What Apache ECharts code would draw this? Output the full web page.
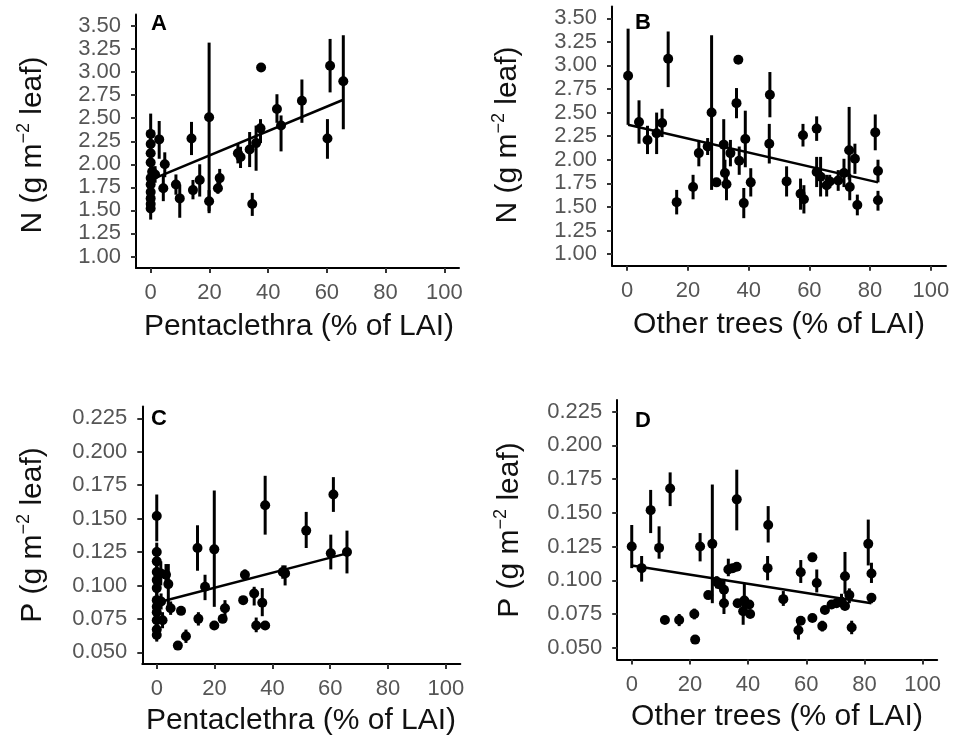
<!DOCTYPE html>
<html>
<head>
<meta charset="utf-8">
<script src="https://cdn.jsdelivr.net/npm/echarts@6/dist/echarts.min.js"></script>
<style>html,body{margin:0;padding:0;background:#fff}#c{width:954px;height:743px}</style>
</head>
<body>
<div id="c"></div>
<script>
// ---- data: [x (% of LAI), mean, lower, upper] ----
const pentN = [
  [0,2.33,2.20,2.55],[0,2.22,2.10,2.35],[0,2.12,2.02,2.22],[0,2.02,1.92,2.12],[0.5,1.92,1.82,2.02],
  [0,1.85,1.75,1.95],[0,1.78,1.68,1.88],[0,1.70,1.60,1.80],[0,1.63,1.53,1.73],[0,1.57,1.47,1.67],
  [0,1.52,1.40,1.62],[1.5,1.89,1.80,1.98],[2.9,2.27,2.06,2.47],[4.3,1.74,1.60,1.88],[4.8,2.00,1.86,2.13],
  [8.6,1.78,1.67,1.89],[9.9,1.63,1.42,1.78],[13.9,2.28,2.10,2.46],[14.4,1.72,1.62,1.83],[16.7,1.83,1.65,2.00],
  [19.9,2.51,1.47,3.32],[19.9,1.60,1.49,1.72],[22.9,1.74,1.68,1.81],[23.5,1.85,1.74,1.95],[29.7,2.12,2.01,2.23],
  [30.6,2.08,1.96,2.19],[33.7,2.16,1.97,2.35],[34.6,1.57,1.44,1.69],[35.9,2.23,1.93,2.42],[37.4,2.39,2.23,2.49],
  [37.6,3.05,3.05,3.05],[43.0,2.60,2.45,2.76],[44.4,2.42,2.14,2.53],[51.5,2.69,2.45,2.92],[60.2,2.28,2.06,2.49],
  [61.1,3.07,2.78,3.36],[65.6,2.90,2.38,3.40]
];
const otherN = [
  [0.3,2.89,2.37,3.39],[3.9,2.40,2.17,2.63],[6.7,2.21,2.06,2.36],[9.7,2.28,2.06,2.50],[11.5,2.39,2.24,2.54],
  [13.5,3.07,2.77,3.36],[16.3,1.55,1.42,1.68],[21.7,1.71,1.58,1.84],[23.6,2.07,1.93,2.21],[26.5,2.14,2.05,2.23],
  [27.8,2.50,1.68,3.32],[29.4,1.76,1.72,1.80],[31.8,2.16,1.90,2.43],[32.2,1.86,1.72,2.00],[32.7,1.74,1.57,1.90],
  [34.0,2.07,1.93,2.21],[36.0,2.60,2.44,2.76],[36.6,3.06,3.06,3.06],[36.9,1.99,1.84,2.14],[38.9,2.22,1.92,2.52],
  [38.4,1.54,1.38,1.70],[40.7,1.76,1.61,1.91],[47.0,2.69,2.45,2.93],[46.8,2.17,1.96,2.38],[52.5,1.77,1.61,1.93],
  [57.1,1.64,1.47,1.80],[57.9,2.26,2.14,2.38],[58.2,1.58,1.43,1.73],[62.4,2.33,2.20,2.46],[62.4,1.87,1.71,2.03],
  [63.7,1.82,1.61,2.03],[65.7,1.73,1.61,1.84],[66.7,1.77,1.70,1.84],[69.5,1.78,1.67,1.89],[71.4,1.86,1.71,2.01],
  [73.1,2.10,1.79,2.56],[73.3,1.71,1.57,1.85],[75.0,2.01,1.85,2.17],[75.8,1.52,1.41,1.63],[81.7,2.29,2.10,2.48],
  [82.6,1.88,1.76,2.00],[82.6,1.57,1.46,1.67]
];
const pentP = [
  [0,0.152,0.133,0.168],[0,0.125,0.118,0.132],[0,0.118,0.112,0.124],[0,0.110,0.104,0.116],[0,0.104,0.098,0.110],
  [0,0.098,0.092,0.104],[0,0.089,0.083,0.095],[0,0.084,0.078,0.090],[0,0.080,0.074,0.086],[0,0.074,0.068,0.080],
  [0,0.067,0.062,0.072],[0,0.063,0.058,0.068],[1.4,0.109,0.100,0.118],[2.0,0.074,0.068,0.080],[1.5,0.088,0.082,0.094],
  [3.2,0.108,0.100,0.116],[4.0,0.101,0.083,0.116],[4.8,0.083,0.078,0.088],[7.3,0.055,0.055,0.055],[8.4,0.081,0.078,0.084],
  [10.1,0.062,0.057,0.067],[14.1,0.128,0.111,0.145],[14.4,0.075,0.070,0.080],[16.7,0.099,0.089,0.108],[19.9,0.127,0.084,0.171],
  [19.9,0.070,0.070,0.070],[22.8,0.075,0.075,0.075],[23.6,0.083,0.075,0.089],[29.9,0.089,0.089,0.089],[30.5,0.108,0.104,0.112],
  [33.7,0.094,0.085,0.099],[34.4,0.070,0.065,0.076],[36.5,0.087,0.077,0.098],[37.5,0.160,0.138,0.182],[37.5,0.070,0.070,0.070],
  [43.6,0.110,0.105,0.115],[44.4,0.109,0.100,0.115],[51.7,0.141,0.128,0.155],[60.2,0.124,0.112,0.138],[61.1,0.168,0.155,0.181],
  [65.8,0.125,0.109,0.141]
];
const otherP = [
  [0,0.125,0.109,0.141],[3.4,0.109,0.099,0.118],[6.5,0.152,0.135,0.167],[9.4,0.124,0.116,0.140],[13.2,0.168,0.155,0.180],
  [11.4,0.0705,0.0705,0.0705],[16.3,0.0705,0.066,0.075],[21.5,0.075,0.071,0.079],[21.8,0.056,0.056,0.056],[23.5,0.125,0.114,0.135],
  [27.7,0.127,0.083,0.171],[26.3,0.089,0.087,0.091],[29.2,0.099,0.094,0.103],[30.0,0.097,0.097,0.097],[31.7,0.093,0.085,0.101],
  [31.7,0.083,0.075,0.090],[33.2,0.108,0.103,0.116],[34.7,0.109,0.109,0.109],[36.1,0.110,0.110,0.110],[36.1,0.160,0.137,0.182],
  [36.4,0.083,0.083,0.083],[38.3,0.077,0.067,0.085],[38.7,0.085,0.078,0.098],[40.4,0.082,0.082,0.082],[40.7,0.075,0.075,0.075],
  [46.9,0.141,0.128,0.155],[46.7,0.109,0.100,0.118],[52.1,0.086,0.081,0.092],[58.1,0.106,0.098,0.115],[57.3,0.063,0.056,0.068],
  [62.1,0.117,0.117,0.117],[63.6,0.098,0.091,0.108],[58.1,0.070,0.070,0.070],[62.1,0.072,0.072,0.072],[65.5,0.066,0.062,0.070],
  [66.4,0.078,0.078,0.078],[68.7,0.082,0.082,0.082],[70.4,0.083,0.083,0.083],[72.1,0.084,0.080,0.090],[73.3,0.103,0.090,0.121],
  [73.3,0.081,0.081,0.081],[74.8,0.089,0.083,0.094],[75.6,0.065,0.060,0.070],[81.3,0.127,0.111,0.145],[82.4,0.105,0.098,0.113],
  [82.4,0.087,0.083,0.090]
];
// fitted regression lines (endpoints over data range)
const fitPentN = [[0,1.83],[65.6,2.70]];
const fitOtherN = [[0.3,2.37],[82.6,1.76]];
const fitPentP = [[0,0.087],[65.8,0.124]];
const fitOtherP = [[0,0.111],[82.4,0.083]];
// tick labels
const xTicks = [0,20,40,60,80,100];
const nTicks = [1.00,1.25,1.50,1.75,2.00,2.25,2.50,2.75,3.00,3.25,3.50];
const pTicks = [0.050,0.075,0.100,0.125,0.150,0.175,0.200,0.225];
const panelLetters = ['A','B','C','D'];
const xTitles = ['Pentaclethra (% of LAI)','Other trees (% of LAI)','Pentaclethra (% of LAI)','Other trees (% of LAI)'];
const yNames = ['N','N','P','P'];

const FONT = '"Liberation Sans", Arial, Helvetica, sans-serif';
const grids = [
  {left:136, top:14.5, width:323, height:253.5},
  {left:612, top:6.5, width:334, height:259.3},
  {left:142.3, top:406.6, width:318, height:257.4},
  {left:617.2, top:399.9, width:320, height:259.6}
];
const yRanges = [[0.875,3.625],[0.875,3.625],[0.04125,0.23375],[0.04125,0.23375]];
const yTickSets = [nTicks,nTicks,pTicks,pTicks];
const yDec = [2,2,3,3];
const datasets = [pentN, otherN, pentP, otherP];
const fits = [fitPentN, fitOtherN, fitPentP, fitOtherP];

const xAxes = grids.map((g,i)=>({
  type:'value', gridIndex:i, min:-5, max:105,
  splitLine:{show:false},
  axisLine:{show:true, onZero:false, lineStyle:{color:'#000', width:2}},
  axisTick:{show:true, customValues:xTicks, length:5, lineStyle:{color:'#333', width:2}},
  axisLabel:{customValues:xTicks, color:'#555', fontSize:22, fontFamily:FONT, margin:14}
}));
const yAxes = grids.map((g,i)=>({
  type:'value', gridIndex:i, min:yRanges[i][0], max:yRanges[i][1],
  splitLine:{show:false},
  axisLine:{show:true, onZero:false, lineStyle:{color:'#000', width:2}},
  axisTick:{show:true, customValues:yTickSets[i], length:5, lineStyle:{color:'#333', width:2}},
  axisLabel:{customValues:yTickSets[i], color:'#555', fontSize:22, fontFamily:FONT, margin:15,
    formatter:(v)=>Number(v).toFixed(yDec[i])}
}));

const series = [];
datasets.forEach((d,i)=>{
  series.push({
    type:'custom', xAxisIndex:i, yAxisIndex:i, data:d, encode:{x:0,y:[1,2,3]}, z:2, silent:true,
    renderItem:(params, api)=>{
      const p1 = api.coord([api.value(0), api.value(2)]);
      const p2 = api.coord([api.value(0), api.value(3)]);
      return {type:'line', shape:{x1:p1[0],y1:p1[1],x2:p2[0],y2:p2[1]}, style:{stroke:'#000', lineWidth:3}};
    }
  });
  series.push({
    type:'line', xAxisIndex:i, yAxisIndex:i, data:fits[i], symbol:'none', z:3, silent:true,
    lineStyle:{color:'#000', width:2.5}
  });
  series.push({
    type:'scatter', xAxisIndex:i, yAxisIndex:i, data:d.map(r=>[r[0],r[1]]), symbol:'circle',
    symbolSize:10, itemStyle:{color:'#000', opacity:1}, z:4, silent:true
  });
});

const letterPos = [[159,24],[643,23],[159,419],[643,421]];
const xTitlePos = [[299,327],[779,325],[301,721],[777,717]];
const yTitlePos = [[33,145],[508,135],[33,535],[510,530]];
const graphic = [];
panelLetters.forEach((L,i)=>{
  graphic.push({type:'text', x:letterPos[i][0], y:letterPos[i][1], silent:true,
    style:{text:L, font:'bold 22px '+FONT, fill:'#000', align:'center', verticalAlign:'middle'}});
  graphic.push({type:'text', x:xTitlePos[i][0], y:xTitlePos[i][1], silent:true,
    style:{text:xTitles[i], font:'30px '+FONT, fill:'#111', align:'center', verticalAlign:'middle'}});
  graphic.push({type:'text', x:yTitlePos[i][0], y:yTitlePos[i][1], rotation:Math.PI/2, silent:true,
    style:{text:'{b|'+yNames[i]+' (g m}{s|\u22122}{b| leaf)}', align:'center', verticalAlign:'middle',
      rich:{
        b:{fontSize:30, fontFamily:FONT, fill:'#111', lineHeight:36, verticalAlign:'middle'},
        s:{fontSize:18, fontFamily:FONT, fill:'#111', lineHeight:18, verticalAlign:'top'}
      }}});
});

const chart = echarts.init(document.getElementById('c'), null, {renderer:'canvas'});
chart.setOption({
  animation:false,
  backgroundColor:'#fff',
  grid:grids.map(g=>Object.assign({containLabel:false}, g)),
  xAxis:xAxes, yAxis:yAxes, series:series, graphic:graphic
});
</script>
</body>
</html>
